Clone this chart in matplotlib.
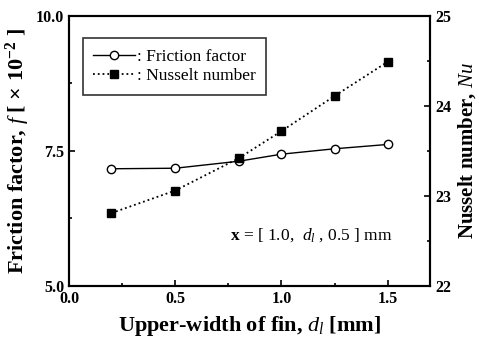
import matplotlib
matplotlib.use("Agg")
import matplotlib.pyplot as plt
from matplotlib.ticker import MultipleLocator, FormatStrFormatter

plt.rcParams['font.family'] = ['Liberation Serif', 'DejaVu Serif']
plt.rcParams['font.weight'] = 'bold'
plt.rcParams['axes.labelweight'] = 'bold'
plt.rcParams['mathtext.fontset'] = 'custom'
plt.rcParams['mathtext.rm'] = 'Liberation Serif:weight=bold'
plt.rcParams['mathtext.it'] = 'Liberation Serif:style=italic:weight=normal'
plt.rcParams['mathtext.bf'] = 'Liberation Serif:weight=bold'

# дані з графіка
widths = [0.2, 0.5, 0.8, 1.0, 1.25, 1.5]
friction = [7.17, 7.18, 7.31, 7.44, 7.54, 7.62]
nusselt = [22.81, 23.06, 23.42, 23.72, 24.11, 24.49]

fig = plt.figure(figsize=(4.79, 3.45), dpi=100)
ax = fig.add_axes([0.144, 0.171, 0.754, 0.783])
ax2 = ax.twinx()

l1, = ax.plot(widths, friction, '-', color='black', lw=1.0, marker='o',
              mfc='white', mec='black', ms=6, mew=1.0)
l2, = ax2.plot(widths, nusselt, ':', color='black', lw=1.3, marker='s',
               mfc='black', mec='black', ms=5.5)

ax.set_xlim(0.0, 1.7)
ax.set_ylim(5.0, 10.0)
ax2.set_ylim(22, 25)

ax.xaxis.set_major_locator(MultipleLocator(0.5))
ax.xaxis.set_minor_locator(MultipleLocator(0.25))
ax.xaxis.set_major_formatter(FormatStrFormatter('%.1f'))
ax.yaxis.set_major_locator(MultipleLocator(2.5))
ax.yaxis.set_minor_locator(MultipleLocator(1.25))
ax.yaxis.set_major_formatter(FormatStrFormatter('%.1f'))
ax2.yaxis.set_major_locator(MultipleLocator(1))
ax2.yaxis.set_minor_locator(MultipleLocator(0.5))

for a in (ax, ax2):
    a.tick_params(which='both', direction='in', labelsize=11.5, width=1.2)
    a.tick_params(which='major', length=4)
    a.tick_params(which='minor', length=2.5)
    for s in a.spines.values():
        s.set_linewidth(1.5)

ax.set_xlabel(r'Upper-width of fin, $d_l$ [mm]', fontsize=16, labelpad=5)
ax.set_ylabel(r'Friction factor, $f$ [ $\times$ 10$^{-2}$ ]', fontsize=16,
              labelpad=3)
ax2.set_ylabel(r'Nusselt number, $Nu$', fontsize=15, labelpad=4)

leg = ax.legend([l1, l2], [': Friction factor', ': Nusselt number'],
                loc='upper left', bbox_to_anchor=(0.039, 0.918),
                prop={'size': 12.5, 'weight': 'normal'},
                frameon=True, fancybox=False, edgecolor='black',
                handlelength=2.4, handletextpad=0.1, borderpad=0.6,
                labelspacing=0.2, borderaxespad=0)
leg.get_frame().set_linewidth(1.2)

ax.text(0.76, 5.94, r'$\mathbf{x}$ = [ 1.0,  $d_l$ , 0.5 ] mm', fontsize=12.5,
        fontweight='normal', va='center')

fig.savefig('out.png', dpi=100)
